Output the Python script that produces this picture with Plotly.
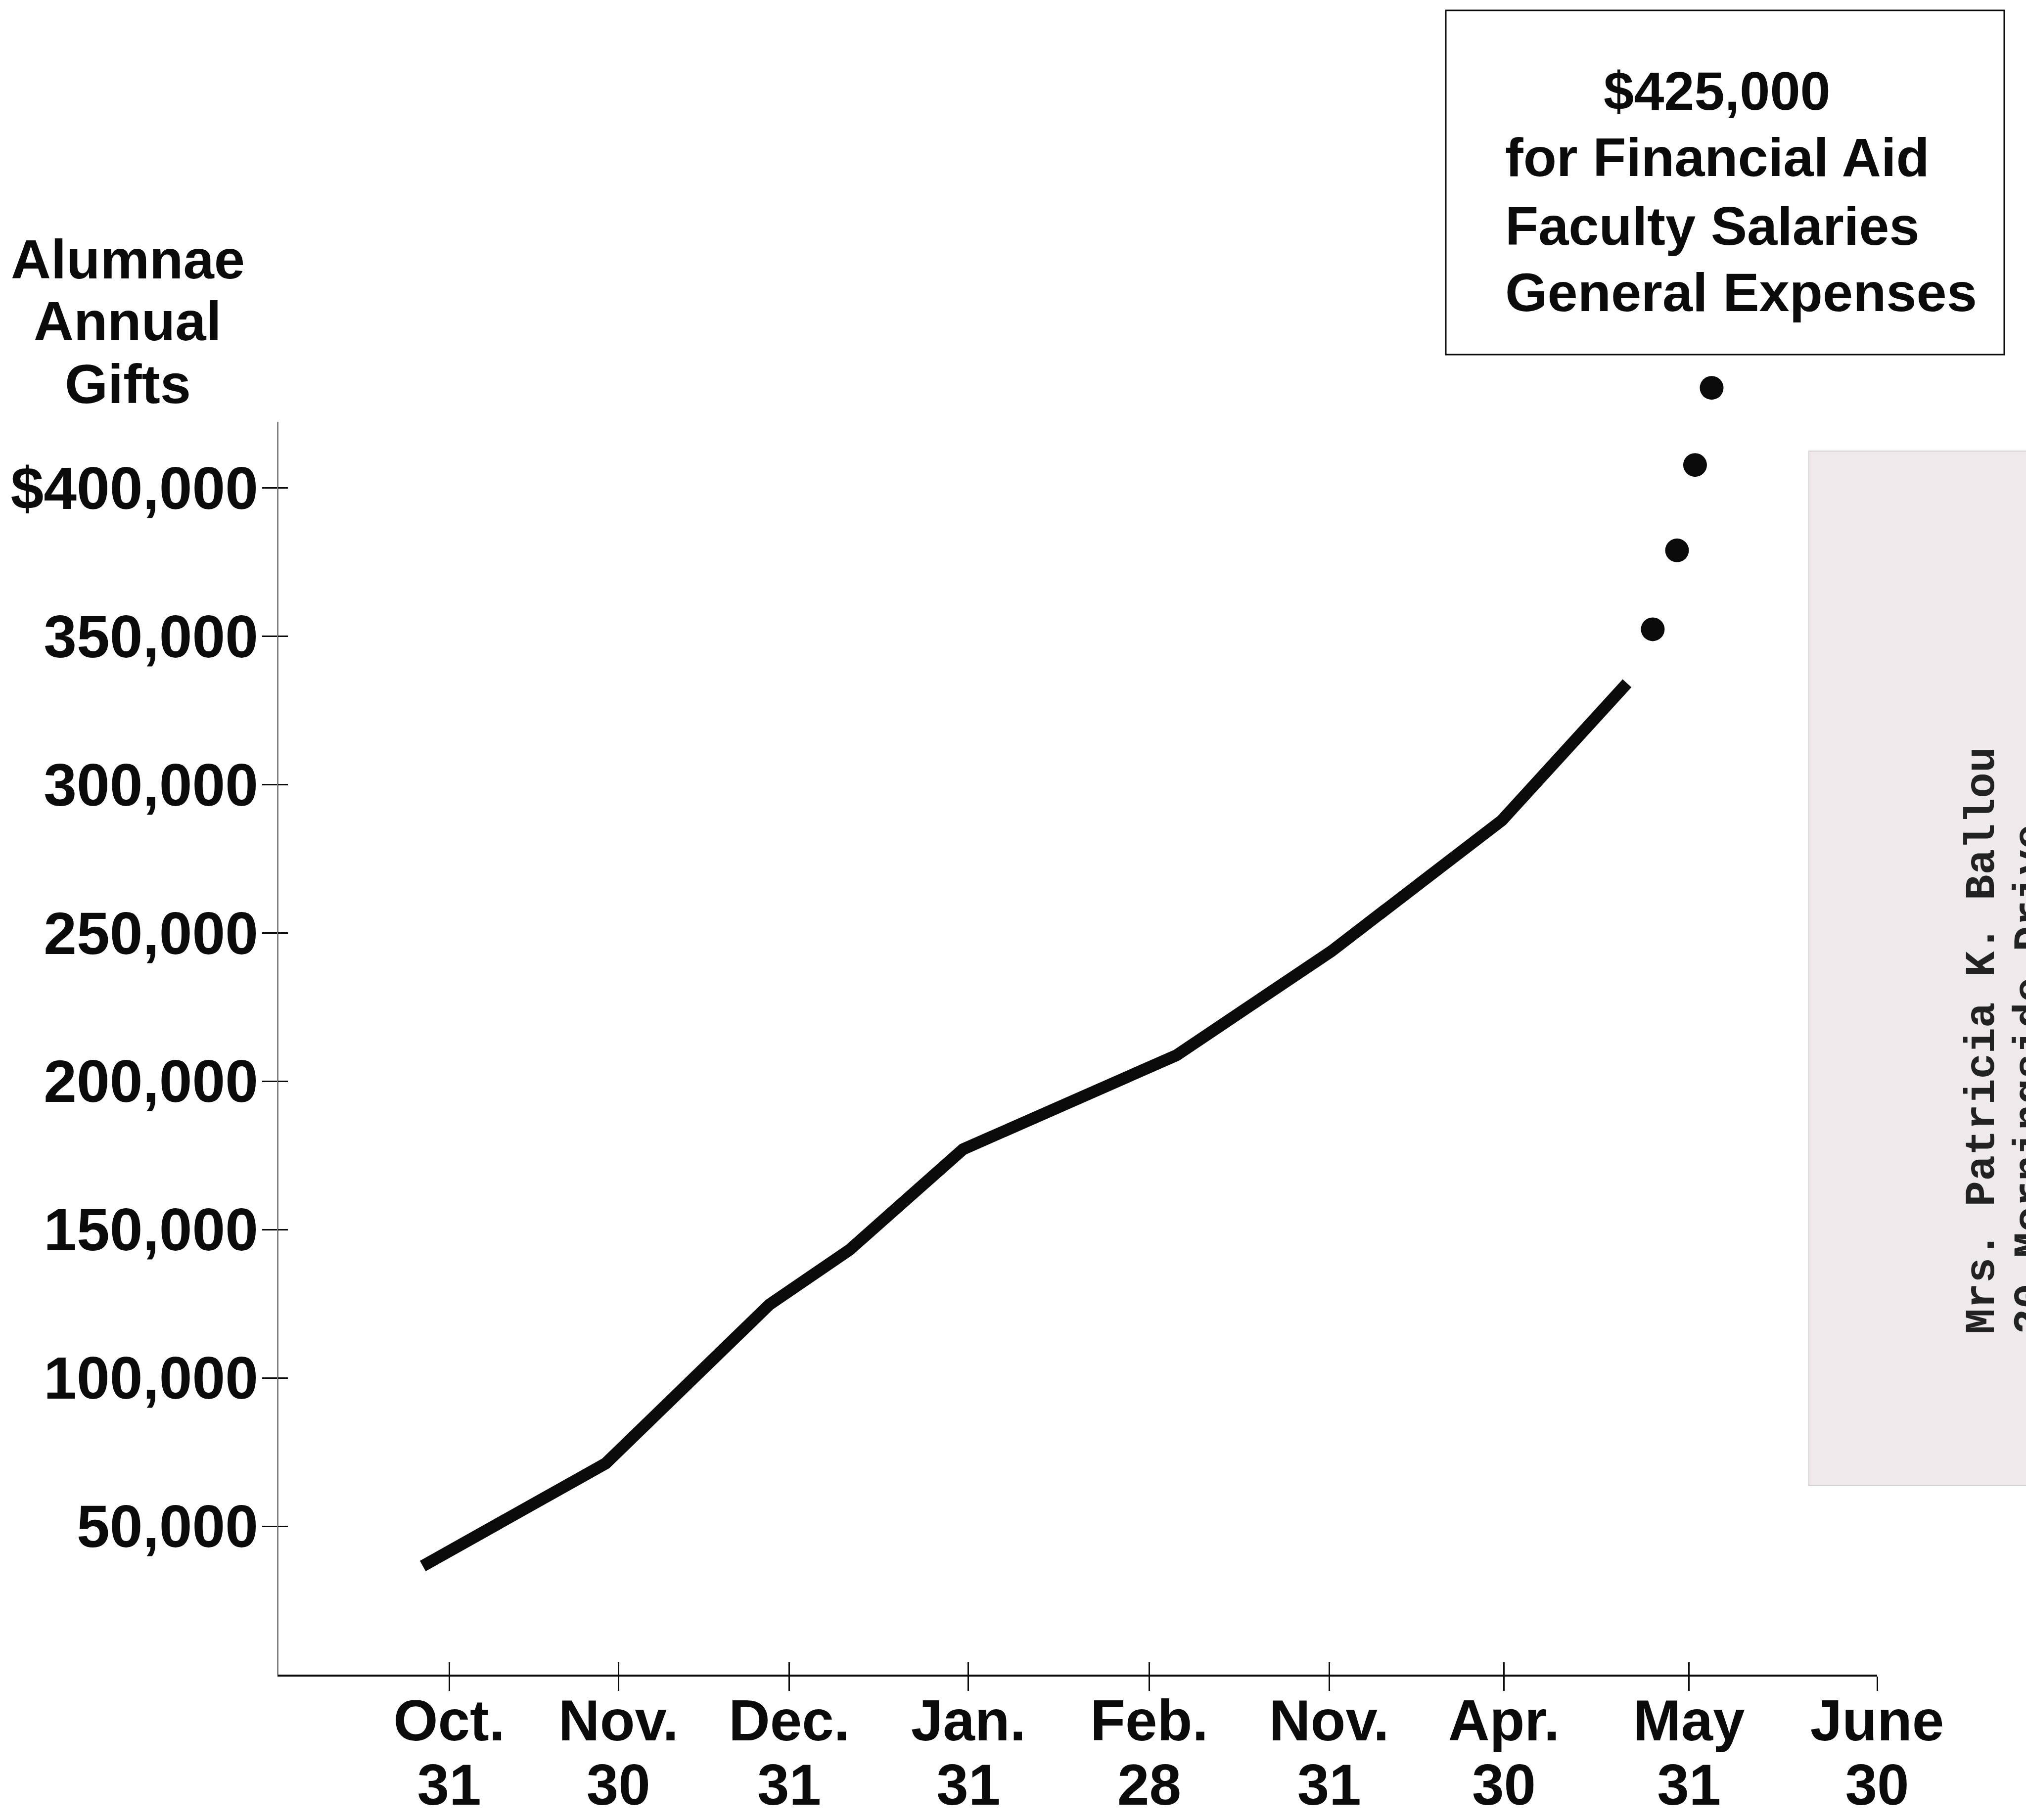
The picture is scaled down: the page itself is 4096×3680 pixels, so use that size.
import plotly.graph_objects as go

# ---------------- data ----------------
months = ["Oct.", "Nov.", "Dec.", "Jan.", "Feb.", "Nov.", "Apr.", "May", "June"]
days = ["31", "30", "31", "31", "28", "31", "30", "31", "30"]
month_pos = [0, 0.948, 1.905, 2.909, 3.922, 4.930, 5.909, 6.946, 8.0]

gifts_x = [-0.148, 0.877, 1.795, 2.243, 2.879, 4.075, 4.943, 5.898, 6.599]
gifts_y = [36600, 71200, 124800, 143200, 177100, 208800, 243900, 288000, 334200]

proj_x = [6.743, 6.879, 6.980, 7.073]
proj_y = [352400, 379000, 407800, 433800]

y_ticks = [50000, 100000, 150000, 200000, 250000, 300000, 350000, 400000]
y_labels = ["50,000", "100,000", "150,000", "200,000", "250,000",
            "300,000", "350,000", "$400,000"]

x_range = [-0.962, 8.0]
y_range = [0, 440000]
y_axis_top = 422300

goal_lines = ["$425,000", "for Financial Aid", "Faculty Salaries", "General Expenses"]
title_lines = ["Alumnae", "Annual", "Gifts"]
address_lines = ["Mrs. Patricia K. Ballou", "20 Morningside Drive"]

# ---------------- layout helpers ----------------
W, H = 4096, 3680
L, R, T, B = 561, 301, 747, 294
PW, PH = W - L - R, H - T - B


def px(x):
    return (x - L) / PW


def py(y):
    return (H - B - y) / PH


BOLD = "Liberation Sans"
NARROW = "Liberation Sans Narrow, Liberation Sans"
INK = "#0b0b0b"

fig = go.Figure()

fig.add_trace(go.Scatter(
    x=gifts_x, y=gifts_y, mode="lines",
    line=dict(color=INK, width=24),
    cliponaxis=False, showlegend=False, hoverinfo="skip",
))
fig.add_trace(go.Scatter(
    x=proj_x, y=proj_y, mode="markers", xaxis="x2", yaxis="y2",
    marker=dict(color=INK, size=48, line=dict(width=0)),
    cliponaxis=False, showlegend=False, hoverinfo="skip",
))

axis_common = dict(showgrid=False, zeroline=False, automargin=False)

fig.update_layout(
    width=W, height=H,
    margin=dict(l=L, r=R, t=T, b=B, pad=0, autoexpand=False),
    paper_bgcolor="white", plot_bgcolor="white",
    showlegend=False,
    xaxis=dict(
        **axis_common, range=x_range, tickmode="array",
        tickvals=month_pos, ticktext=months,
        ticks="outside", ticklen=29, tickwidth=3, tickcolor=INK,
        showline=True, linecolor=INK, linewidth=4,
        tickfont=dict(family=NARROW, size=116, color=INK, weight="bold"),
        ticklabelstandoff=-39,
    ),
    xaxis2=dict(
        **axis_common, range=x_range, overlaying="x", anchor="y2", side="bottom",
        tickmode="array", tickvals=month_pos, ticktext=days,
        ticks="inside", ticklen=25, tickwidth=3, tickcolor=INK,
        showline=False,
        tickfont=dict(family=NARROW, size=116, color=INK, weight="bold"),
        ticklabelstandoff=146,
    ),
    yaxis=dict(
        **axis_common, range=y_range, tickmode="array",
        tickvals=y_ticks, ticktext=y_labels,
        ticks="outside", ticklen=30, tickwidth=3, tickcolor=INK,
        showline=False,
        tickfont=dict(family=BOLD, size=120, color=INK, weight="bold"),
        ticklabelstandoff=-16,
    ),
    yaxis2=dict(
        **axis_common, range=y_range, overlaying="y", anchor="x2", side="left",
        tickmode="array", tickvals=y_ticks, ticktext=[""] * len(y_ticks),
        ticks="inside", ticklen=21, tickwidth=3, tickcolor=INK,
        showline=False, showticklabels=False,
    ),
)

shapes = []
# vertical axis line (stops below the top of the drawing area)
shapes.append(dict(type="line", xref="x", yref="y",
                   x0=x_range[0], x1=x_range[0], y0=y_range[0], y1=y_axis_top,
                   line=dict(color=INK, width=3)))
# goal box
shapes.append(dict(type="rect", xref="paper", yref="paper",
                   x0=px(2923), x1=px(4052), y0=py(717), y1=py(21),
                   line=dict(color=INK, width=3), fillcolor="rgba(0,0,0,0)"))
# address label
shapes.append(dict(type="rect", xref="paper", yref="paper", layer="below",
                   x0=px(3657), x1=px(4140), y0=py(3004), y1=py(912),
                   line=dict(color="#d6d0d1", width=2), fillcolor="#eee9ea"))
fig.update_layout(shapes=shapes)

ann = []
# y-axis title
for txt, yc in zip(title_lines, [524, 649, 777]):
    ann.append(dict(text=txt, xref="paper", yref="paper", x=px(258), y=py(yc),
                    xanchor="center", yanchor="middle", showarrow=False,
                    font=dict(family=BOLD, size=112, color=INK, weight="bold")))
# goal box text
ann.append(dict(text=goal_lines[0], xref="paper", yref="paper", x=px(3471), y=py(184),
                xanchor="center", yanchor="middle", showarrow=False,
                font=dict(family=BOLD, size=110, color=INK, weight="bold")))
for txt, yc in zip(goal_lines[1:], [317, 457, 590]):
    ann.append(dict(text=txt, xref="paper", yref="paper", x=px(3041), y=py(yc),
                    xanchor="left", yanchor="middle", showarrow=False,
                    font=dict(family=BOLD, size=110, color=INK, weight="bold")))
# address text (typewritten, rotated)
for txt, xc in zip(address_lines, [4007, 4106]):
    ann.append(dict(text=txt, xref="paper", yref="paper", x=px(xc), y=py(2700),
                    xanchor="center", yanchor="bottom", textangle=-90, showarrow=False,
                    font=dict(family="Liberation Mono", size=86, color="#222222",
                              weight="bold")))
fig.update_layout(annotations=ann)

fig.write_html("out.html")
